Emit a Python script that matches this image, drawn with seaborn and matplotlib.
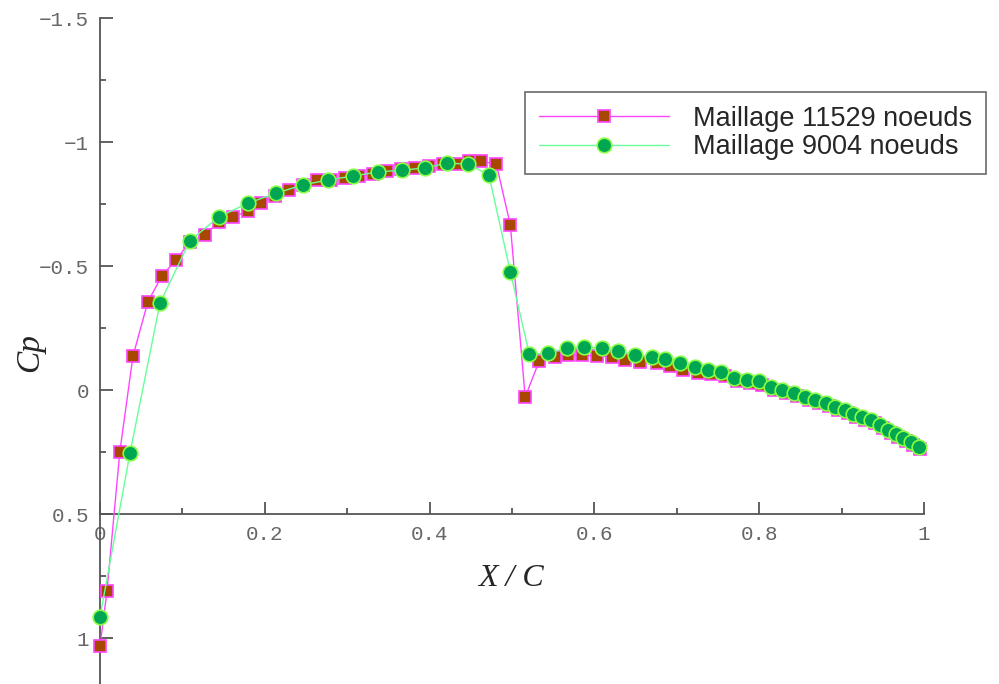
import numpy as np
import pandas as pd
import matplotlib
matplotlib.use("Agg")
import matplotlib.pyplot as plt
import seaborn as sns

# maillage fin (carres)
x_fin = [0.0, 0.0085, 0.024, 0.040, 0.058, 0.075, 0.092, 0.109, 0.127, 0.144,
         0.161, 0.180, 0.195, 0.212, 0.229, 0.246, 0.263, 0.280, 0.297, 0.314,
         0.331, 0.348, 0.365, 0.382, 0.399, 0.416, 0.433, 0.448, 0.462, 0.481,
         0.498, 0.516, 0.533, 0.552, 0.568, 0.585, 0.603, 0.621, 0.637, 0.655,
         0.676, 0.692, 0.708, 0.726, 0.742, 0.758, 0.773, 0.789, 0.804, 0.818,
         0.832, 0.846, 0.860, 0.872, 0.885, 0.896, 0.908, 0.918, 0.929, 0.940,
         0.950, 0.960, 0.969, 0.978, 0.987, 0.995]
cp_fin = [1.032, 0.81, 0.25, -0.137, -0.355, -0.46, -0.524, -0.597, -0.625, -0.677,
          -0.698, -0.722, -0.754, -0.782, -0.806, -0.827, -0.847, -0.847, -0.855, -0.863,
          -0.871, -0.883, -0.891, -0.895, -0.903, -0.911, -0.911, -0.923, -0.923, -0.911,
          -0.665, 0.028, -0.117, -0.133, -0.141, -0.141, -0.137, -0.133, -0.121, -0.113,
          -0.109, -0.097, -0.081, -0.069, -0.065, -0.057, -0.036, -0.028, -0.020, 0.000,
          0.012, 0.024, 0.040, 0.052, 0.064, 0.081, 0.093, 0.109, 0.121, 0.133,
          0.153, 0.173, 0.190, 0.206, 0.222, 0.238]

# maillage grossier (ronds)
x_gros = [0.0, 0.0364, 0.0728, 0.109, 0.144, 0.180, 0.214, 0.246, 0.277, 0.307,
          0.337, 0.367, 0.394, 0.421, 0.447, 0.472, 0.498, 0.521, 0.544, 0.567,
          0.587, 0.609, 0.629, 0.649, 0.670, 0.686, 0.704, 0.722, 0.738, 0.754,
          0.769, 0.785, 0.800, 0.814, 0.828, 0.842, 0.856, 0.868, 0.881, 0.892,
          0.904, 0.914, 0.925, 0.936, 0.947, 0.956, 0.966, 0.975, 0.984, 0.994]
cp_gros = [0.915, 0.254, -0.351, -0.601, -0.698, -0.754, -0.794, -0.827, -0.847, -0.863,
           -0.879, -0.887, -0.895, -0.915, -0.911, -0.867, -0.476, -0.145, -0.149, -0.169,
           -0.173, -0.169, -0.157, -0.141, -0.133, -0.125, -0.109, -0.093, -0.081, -0.073,
           -0.048, -0.040, -0.036, -0.012, 0.0, 0.012, 0.028, 0.040, 0.052, 0.069,
           0.081, 0.097, 0.109, 0.121, 0.141, 0.161, 0.177, 0.194, 0.210, 0.230]

labels = ["Maillage 11529 noeuds", "Maillage 9004 noeuds"]
xt = [0, 0.2, 0.4, 0.6, 0.8, 1.0]
xt_lab = ["0", "0.2", "0.4", "0.6", "0.8", "1"]
yt = [-1.5, -1, -0.5, 0, 0.5, 1]
yt_lab = ["\u22121.5", "\u22121", "\u22120.5", "0", "0.5", "1"]

sns.set_style("white")
plt.rcParams["font.family"] = ["Liberation Sans", "DejaVu Sans"]

fig = plt.figure(figsize=(9.99, 6.84), dpi=100)
ax = fig.add_axes([100 / 999, 0, 824 / 999, 666 / 684])

sns.lineplot(x=x_fin, y=cp_fin, ax=ax, sort=False, color="#ff44ff", linewidth=1.0,
             marker="s", markersize=8, markerfacecolor="#a84800",
             markeredgecolor="#ff44ff", markeredgewidth=1.2, label=labels[0],
             clip_on=False, zorder=3)
sns.lineplot(x=x_gros, y=cp_gros, ax=ax, sort=False, color="#66ff99", linewidth=1.0,
             marker="o", markersize=10.5, markerfacecolor="#00a651",
             markeredgecolor="#88ff44", markeredgewidth=1.2, label=labels[1],
             clip_on=False, zorder=4)

ax.set_xlim(0, 1)
ax.set_ylim(1.185, -1.5)
ax.spines["top"].set_visible(False)
ax.spines["right"].set_visible(False)
ax.spines["bottom"].set_position(("data", 0.5))
for s in ["left", "bottom"]:
    ax.spines[s].set_color("#555555")
    ax.spines[s].set_linewidth(1.3)

ax.set_xticks(xt)
ax.set_xticklabels(xt_lab)
ax.set_xticks(np.arange(0.1, 1.0, 0.2), minor=True)
ax.set_yticks(yt)
ax.set_yticklabels(yt_lab)
ax.set_yticks([-1.25, -0.75, -0.25, 0.25, 0.75], minor=True)
ax.tick_params(which="both", direction="in", color="#555555", width=1.3,
               bottom=True, left=True)
ax.tick_params(which="major", length=9, labelsize=15, labelcolor="#666666", pad=8)
ax.tick_params(which="minor", length=4)
for t in ax.get_xticklabels() + ax.get_yticklabels():
    t.set_family(["Liberation Mono", "DejaVu Sans Mono"])

fig.text(30 / 999, 1 - 352 / 684, "Cp", rotation=90, ha="center", va="center",
         fontsize=24, style="italic", family=["Liberation Serif", "DejaVu Serif"])
fig.text(511 / 999, 1 - 578 / 684, "X / C", ha="center", va="center",
         fontsize=23, style="italic", family=["Liberation Serif", "DejaVu Serif"])

leg = ax.legend(loc="upper left", bbox_to_anchor=(525 / 999, 1 - 92 / 684),
                bbox_transform=fig.transFigure, fancybox=False, frameon=True,
                edgecolor="#444444", fontsize=19.5, handlelength=4.8,
                borderpad=0.5, labelspacing=0.1, handletextpad=0.9, borderaxespad=0)
leg.get_frame().set_linewidth(1.2)

fig.savefig("out.png", dpi=100)
